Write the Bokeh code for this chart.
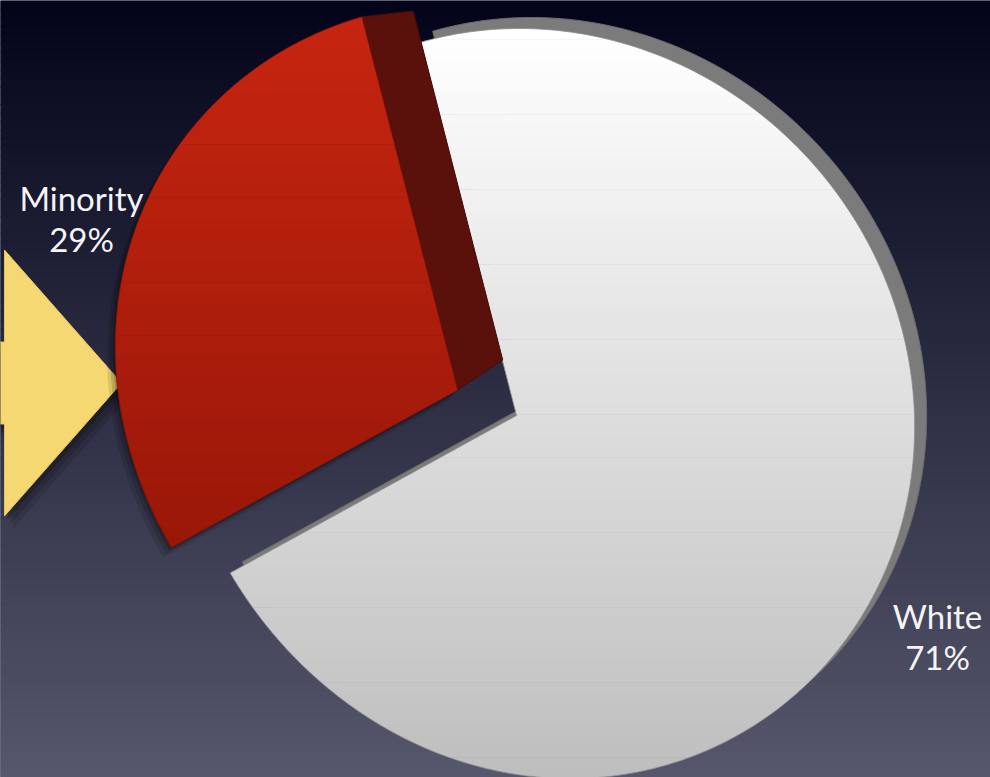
import numpy as np
from bokeh.plotting import figure
from bokeh.models import Range1d
from bokeh.embed import file_html
from bokeh.resources import INLINE
from bokeh.core.properties import value

# ---------------- data ----------------
categories = ["White", "Minority"]
values = [71, 29]
pct_labels = ["71%", "29%"]

# ---------------- layout / style ----------------
PAGE_W, PAGE_H = 990, 777
FIG_W, FIG_H = PAGE_W, PAGE_H
START_ANGLE = 104.4                      # degrees, slices run clockwise
APEX = (516.0, 415.0)                    # centre of the (non exploded) pie
EXPLODE = {"White": 0.0, "Minority": 64.0}
R0, A1, B1, A2, B2 = 371.0, 29.0, 14.0, -2.0, -13.0   # perspective radius profile
LABEL_POS = {"White": (937, 615), "Minority": (81, 197)}
LINE_GAP = 41
FACE_TOP = {"White": (255, 255, 255), "Minority": (198, 37, 16)}
FACE_BOT = {"White": (190, 190, 190), "Minority": (154, 23, 8)}
BG_TOP, BG_BOT = (3, 3, 26), (86, 86, 108)


def hexc(c):
    return "#%02x%02x%02x" % tuple(int(round(v)) for v in c)


def lerp(c0, c1, t):
    return tuple(a + (b - a) * t for a, b in zip(c0, c1))


def radius(theta_deg):
    t = np.radians(theta_deg)
    return R0 + A1 * np.cos(t) + B1 * np.sin(t) + A2 * np.cos(2 * t) + B2 * np.sin(2 * t)


def wedge(apex, a_from, a_to, n=240):
    th = np.linspace(a_from, a_to, n)
    r = radius(th)
    xs = apex[0] + r * np.cos(np.radians(th))
    ys = apex[1] - r * np.sin(np.radians(th))
    return [tuple(apex)] + list(zip(xs, ys))


def clip_half(pts, inside, yc):
    out = []
    for i in range(len(pts)):
        cur, prev = pts[i], pts[i - 1]
        if inside(cur):
            if not inside(prev):
                t = (yc - prev[1]) / (cur[1] - prev[1])
                out.append((prev[0] + t * (cur[0] - prev[0]), yc))
            out.append(cur)
        elif inside(prev):
            t = (yc - prev[1]) / (cur[1] - prev[1])
            out.append((prev[0] + t * (cur[0] - prev[0]), yc))
    return out


def bands(poly, n, c_top, c_bot):
    ys = [q[1] for q in poly]
    y0, y1 = min(ys), max(ys)
    edges = np.linspace(y0, y1, n + 1)
    bx, by, bc = [], [], []
    for i in range(n):
        a, b = edges[i], edges[i + 1] + 0.6
        part = clip_half(poly, lambda q: q[1] >= a, a)
        if len(part) < 3:
            continue
        part = clip_half(part, lambda q: q[1] <= b, b)
        if len(part) < 3:
            continue
        bx.append([q[0] for q in part])
        by.append([q[1] for q in part])
        bc.append(hexc(lerp(c_top, c_bot, (i + 0.5) / n)))
    return bx, by, bc


def shift(poly, dx, dy):
    return [(x + dx, y + dy) for x, y in poly]


p = figure(width=FIG_W, height=FIG_H,
           x_range=Range1d(0, PAGE_W), y_range=Range1d(PAGE_H, 0),
           output_backend="svg", toolbar_location=None,
           x_axis_type=None, y_axis_type=None, min_border=0,
           outline_line_color=None)
p.background_fill_color = hexc(BG_TOP)
p.border_fill_color = hexc(BG_TOP)
p.xgrid.visible = False
p.ygrid.visible = False

# background gradient
nb = 90
edges = np.linspace(0, PAGE_H, nb + 1)
p.quad(left=-5, right=PAGE_W + 5, top=list(edges[:-1]), bottom=list(edges[1:] + 0.8),
       fill_color=[hexc(lerp(BG_TOP, BG_BOT, (i + 0.5) / nb)) for i in range(nb)],
       line_color=None)

# arrow (decoration pointing at the minority slice)
tip_x, mid_y, head_h, shaft_h, base_x = 121.0, 382.5, 133.0, 41.0, 4.0
arrow = [(-80, mid_y - shaft_h), (base_x, mid_y - shaft_h), (base_x, mid_y - head_h),
         (tip_x, mid_y), (base_x, mid_y + head_h), (base_x, mid_y + shaft_h),
         (-80, mid_y + shaft_h)]
for dx, dy, al in [(9, 12, 0.10), (6, 8, 0.14), (3, 4, 0.18)]:
    sh = shift(arrow, dx, dy)
    p.patch([q[0] for q in sh], [q[1] for q in sh], fill_color="black",
            fill_alpha=al, line_color=None)
p.patch([q[0] for q in arrow], [q[1] for q in arrow], fill_color="#f5d872",
        line_color="#e6c45c", line_width=1)

# slices
total = float(sum(values))
cum = 0.0
geo = {}
for cat, v in zip(categories, values):
    a_from = START_ANGLE - cum / total * 360.0
    a_to = a_from - v / total * 360.0
    mid = np.radians((a_from + a_to) / 2.0)
    e = EXPLODE[cat]
    apex = (APEX[0] + e * np.cos(mid), APEX[1] - e * np.sin(mid))
    geo[cat] = (apex, a_from, a_to, wedge(apex, a_from, a_to))
    cum += v

# --- White slice: back face (grey rim) then the front face
apex_w, af_w, at_w, poly_w = geo["White"]
back_w = shift(poly_w, 12, -11)
p.patch([q[0] for q in back_w], [q[1] for q in back_w], fill_color="#7b7b7b",
        line_color="#6a6a6a", line_width=1)
bx, by, bc = bands(poly_w, 70, FACE_TOP["White"], FACE_BOT["White"])
p.patches(bx, by, fill_color=bc, line_color=None)
p.patch([q[0] for q in poly_w], [q[1] for q in poly_w], fill_color=None,
        line_color="#8c8c8c", line_width=1, line_alpha=0.8)

# --- Minority slice: soft shadow, dark side face, front face
apex_m, af_m, at_m, poly_m = geo["Minority"]
for dx, dy, al in [(-8, 10, 0.10), (-5, 6, 0.14), (-2, 3, 0.18)]:
    sh = shift(poly_m, dx, dy)
    p.patch([q[0] for q in sh], [q[1] for q in sh], fill_color="black",
            fill_alpha=al, line_color=None)
P = poly_m[-1]                    # outer corner of the edge facing the gap (upper edge)
A = poly_m[0]                     # apex
Da = (45.0, -30.0)
Ab = (A[0] + Da[0], A[1] + Da[1])
Pb = (Ab[0] + 0.935 * (P[0] - A[0]), Ab[1] + 0.935 * (P[1] - A[1]))
side = [P, A, Ab, Pb]
p.patch([q[0] for q in side], [q[1] for q in side], fill_color="#5a100b",
        line_color="#4a0c08", line_width=1)
bx, by, bc = bands(poly_m, 50, FACE_TOP["Minority"], FACE_BOT["Minority"])
p.patches(bx, by, fill_color=bc, line_color=None)
p.patch([q[0] for q in poly_m], [q[1] for q in poly_m], fill_color=None,
        line_color="#7a1408", line_width=1, line_alpha=0.8)

# labels
lx = [LABEL_POS[c][0] for c in categories]
ly = [LABEL_POS[c][1] for c in categories]
p.text(x=lx, y=ly, text=categories, text_align="center", text_baseline="alphabetic",
       text_font=value("Lato"), text_font_size="33px", text_color="#f4f4f4")
p.text(x=lx, y=[y + LINE_GAP for y in ly], text=pct_labels, text_align="center",
       text_baseline="alphabetic", text_font=value("Lato"), text_font_size="33px",
       text_color="#f4f4f4")

open("out.html", "w").write(file_html(p, INLINE))
